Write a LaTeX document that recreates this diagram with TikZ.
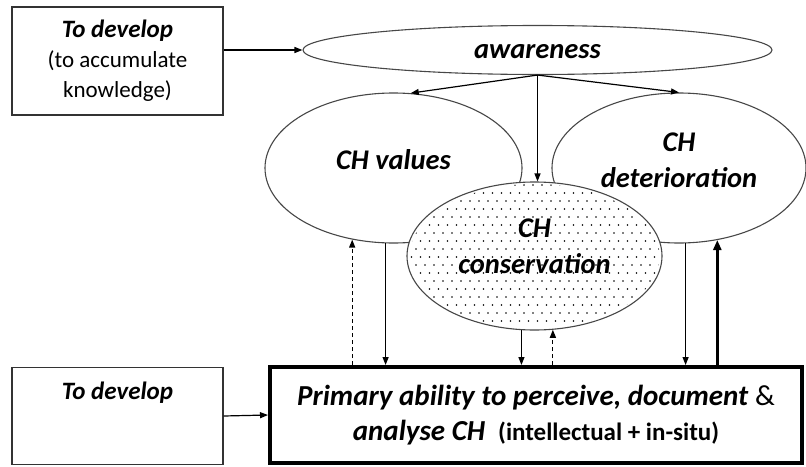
\documentclass[tikz,border=0pt]{standalone}
\usepackage{fontspec}
\setmainfont{Carlito}
\usetikzlibrary{arrows.meta,shapes.geometric,calc}
\begin{document}
\begin{tikzpicture}[x=1pt,y=-1pt,
  bubble/.style={ellipse, draw=black!72, line width=1.1pt, inner sep=0pt},
  btext/.style={align=center, inner sep=0pt, font=\fontsize{28.5}{36}\selectfont\bfseries\itshape},
  box/.style={draw=black!80, line width=1.3pt, inner sep=0pt, align=center},
  conn/.style={line width=1.2pt, -{Triangle[length=8pt,width=6pt]}},
  dconn/.style={conn, dash pattern=on 4pt off 3pt},
  thickconn/.style={line width=2.8pt, -{Triangle[length=10pt,width=8pt]}},
]
\useasboundingbox (0,0) rectangle (806,466);

% boxes
\node[box, minimum width=211pt, minimum height=108pt,
      font=\fontsize{23}{30}\selectfont] (tl) at (117.5,61)
  {{\fontsize{25}{30}\selectfont\bfseries\itshape To develop}\\(to accumulate\\knowledge)};
\node[box, minimum width=211pt, minimum height=97pt] (bl) at (117.5,416) {};
\node[font=\fontsize{25}{30}\selectfont\bfseries\itshape] (bltext) at ($(bl.north)+(0,26)$) {To develop};
\node[draw=black, line width=4pt, minimum width=532pt, minimum height=96pt,
      inner sep=0pt, align=center, font=\fontsize{29}{35}\selectfont] (prim) at (536,415)
  {\textbf{\textit{Primary ability to perceive, document}} \&\\
   \textbf{\textit{analyse CH}}\ \ {\fontsize{25}{28}\selectfont\bfseries(intellectual + in-situ)}};

% ellipses
\node[bubble, minimum width=469pt, minimum height=49pt] (aware) at (537.5,50) {};
\node[btext] at ($(aware.center)+(0,2)$) {awareness};
\node[bubble, minimum width=257pt, minimum height=150pt] (vals) at (393.5,168) {};
\node[btext] at ($(vals.center)+(0,-8)$) {CH values};
\node[bubble, minimum width=254pt, minimum height=150pt] (det) at (679,168) {};
\node[btext] at ($(det.center)+(0,-8)$) {CH\\deterioration};
\node[bubble, fill=white, minimum width=255pt, minimum height=148pt] (cons) at (534.5,256) {};
\begin{scope}
  \clip (cons.center) ellipse [x radius=125pt, y radius=72pt];
  \foreach \j in {0,...,19} {
    \foreach \i in {0,...,29} {
      \fill ({407+\i*9+mod(\j,2)*4.5},{185+\j*8}) circle [radius=0.85pt];
    }
  }
\end{scope}
\node[btext] at ($(cons.center)+(0,-10)$) {CH\\conservation};

% connectors
\draw[conn] (tl.east |- aware.west) -- (aware.west);
\draw[conn] (aware.south) -- (vals.77);
\draw[conn] (aware.south) -- (det.north);
\draw[conn] (aware.south) -- (aware.south |- cons.north);
\draw[conn] (bl.east) -- (prim.west);

\draw[dconn] (vals.240 |- prim.north) -- (vals.240);
\draw[conn] (vals.264) -- (vals.264 |- prim.north);
\draw[conn] (cons.260) -- (cons.260 |- prim.north);
\draw[dconn] (cons.284 |- prim.north) -- (cons.284);
\draw[conn] (det.275) -- (det.275 |- prim.north);
\draw[thickconn] (det.298 |- prim.north) -- (det.298);
\end{tikzpicture}
\end{document}
